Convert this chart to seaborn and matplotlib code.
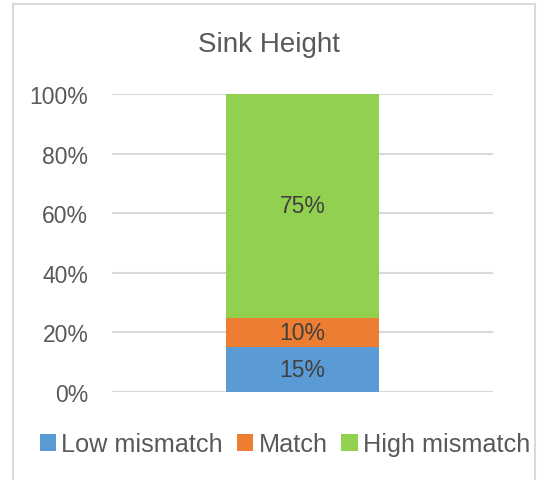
import matplotlib
matplotlib.use("Agg")
import matplotlib.pyplot as plt
from matplotlib.patches import Rectangle, Patch
import numpy as np
import pandas as pd
import seaborn as sns

# data
category = ["Sink Height"]
series = ["Low mismatch", "Match", "High mismatch"]
values = [15, 10, 75]
colors = ["#5B9BD5", "#ED7D31", "#92D050"]
y_ticks = [0, 20, 40, 60, 80, 100]

sns.set_theme(style="white")
plt.rcParams["font.family"] = ["Liberation Sans", "DejaVu Sans"]
text_color = "#595959"

fig = plt.figure(figsize=(5.38, 4.81), dpi=100)
ax = fig.add_axes([0.208, 0.183, 0.708, 0.619])

cum = np.cumsum(values)
df = pd.DataFrame({"cat": category * len(series), "series": series, "top": cum})

# draw tallest first so shorter segments sit on top
for i in reversed(range(len(series))):
    sns.barplot(data=df[df["series"] == series[i]], x="cat", y="top",
                color=colors[i], width=0.4, saturation=1, linewidth=0,
                ax=ax, zorder=3)

bottoms = np.concatenate([[0], cum[:-1]])
for v, b in zip(values, bottoms):
    ax.text(0, b + v / 2, f"{v}%", ha="center", va="center",
            fontsize=16.5, color="#404040", zorder=4)

ax.set_ylim(0, 100)
ax.set_yticks(y_ticks)
ax.set_yticklabels([f"{t}%" for t in y_ticks], fontsize=16.5, color=text_color)
ax.tick_params(axis="y", length=0, pad=17)
ax.set_xticks([])
ax.set_xlabel("")
ax.set_ylabel("")
ax.grid(True, axis="y", color="#D9D9D9", linewidth=1.5, zorder=0)
ax.set_axisbelow(True)
for s in ax.spines.values():
    s.set_visible(False)

fig.suptitle("Sink Height", y=1 - 45 / 481, va="center", fontsize=20, color=text_color)

handles = [Patch(facecolor=c, edgecolor="none") for c in colors]
fig.legend(handles, series, loc="center", bbox_to_anchor=(285 / 538, 1 - 445 / 481),
           ncol=3, frameon=False, fontsize=18.2, handlelength=0.65, handleheight=0.65,
           handletextpad=0.2, columnspacing=0.55, labelcolor=text_color)

fig.add_artist(Rectangle((13 / 538, -0.01), (535 - 13) / 538, 1 - 5 / 481 + 0.01,
                         transform=fig.transFigure, fill=False,
                         edgecolor="#D9D9D9", linewidth=1.5, zorder=-1))

fig.savefig("out.png", dpi=100)
